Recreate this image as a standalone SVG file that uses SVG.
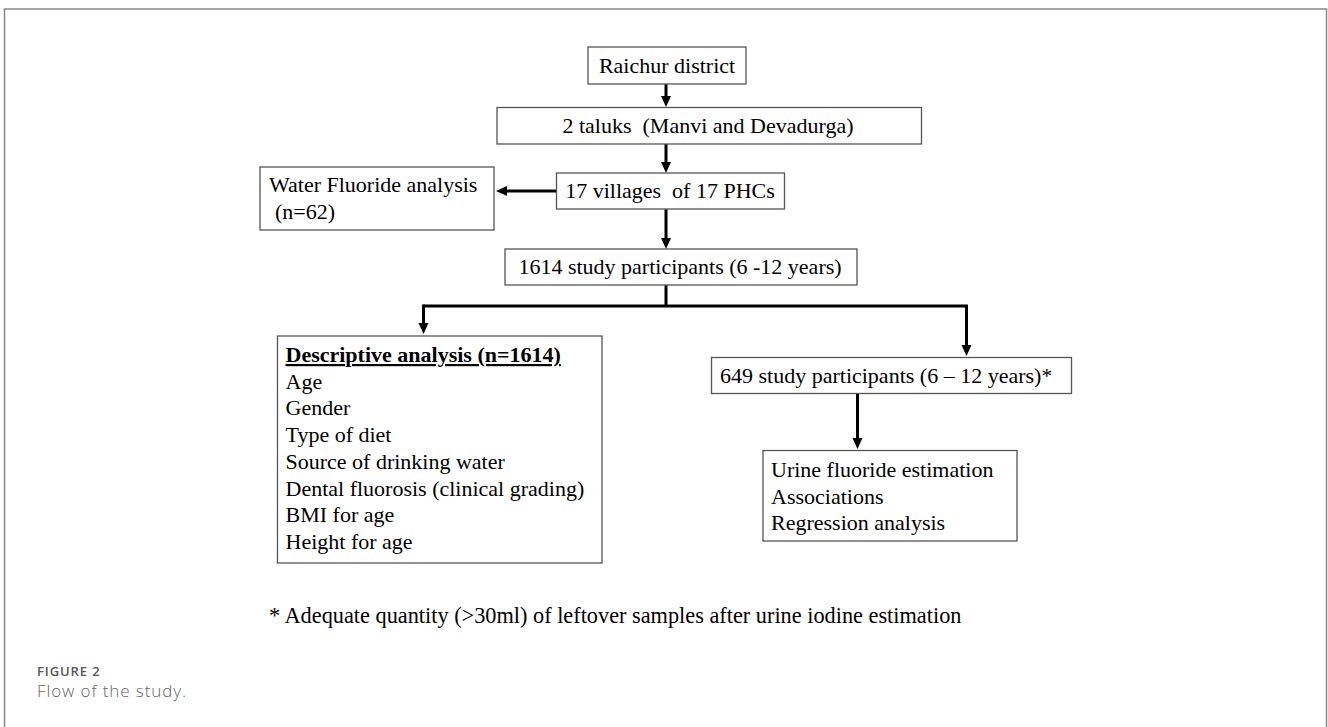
<svg xmlns="http://www.w3.org/2000/svg" width="1328" height="727" viewBox="0 0 1328 727">
<style>
.box{fill:#fff;stroke:#555;stroke-width:1.3}
.t{font-family:"Liberation Serif","Times New Roman",serif;font-size:22px;fill:#000}
.c{text-anchor:middle}
.fn{font-size:22.3px}
.con{fill:none;stroke:#000;stroke-width:3}
.cap1{font-family:"Open Sans",sans-serif;font-weight:600;font-size:13px;letter-spacing:0.9px;fill:#555}
.cap2{font-family:"Open Sans",sans-serif;font-weight:300;font-size:17px;letter-spacing:0.9px;fill:#666}
</style>
<defs>
<marker id="ah" markerUnits="userSpaceOnUse" markerWidth="12" markerHeight="11" refX="1" refY="5" orient="auto" viewBox="0 0 12 10">
<path d="M0,0 L11,5 L0,10 z" fill="#000"/>
</marker>
</defs>
<rect x="0" y="0" width="1328" height="727" fill="#fff"/>
<rect x="4.5" y="9" width="1322" height="800" fill="none" stroke="#888" stroke-width="1.5"/>

<g id="connectors">
<line class="con" x1="666" y1="84" x2="666" y2="97" marker-end="url(#ah)"/>
<line class="con" x1="666" y1="144" x2="666" y2="163" marker-end="url(#ah)"/>
<line class="con" x1="556.5" y1="191" x2="506" y2="191" marker-end="url(#ah)"/>
<line class="con" x1="666" y1="209" x2="666" y2="239" marker-end="url(#ah)"/>
<polyline class="con" points="666,285 666,306"/>
<polyline class="con" points="423.5,306 966.5,306 966.5,346" marker-end="url(#ah)"/>
<line class="con" x1="423.5" y1="304.5" x2="423.5" y2="324" marker-end="url(#ah)"/>
<line class="con" x1="857.5" y1="393.5" x2="857.5" y2="439" marker-end="url(#ah)"/>
</g>

<g id="raichur">
<rect class="box" x="588" y="47" width="158" height="37"/>
<text class="t c" x="667" y="73">Raichur district</text>
</g>
<g id="taluks">
<rect class="box" x="497" y="107.5" width="424.5" height="36.5"/>
<text class="t c" x="708" y="133" xml:space="preserve">2 taluks  (Manvi and Devadurga)</text>
</g>
<g id="villages">
<rect class="box" x="556.5" y="173" width="228" height="36"/>
<text class="t c" x="670" y="198" xml:space="preserve">17 villages  of 17 PHCs</text>
</g>
<g id="water">
<rect class="box" x="260" y="167" width="234" height="63"/>
<text class="t" x="269" y="192">Water Fluoride analysis</text>
<text class="t" x="275" y="219">(n=62)</text>
</g>
<g id="participants1614">
<rect class="box" x="505" y="249" width="352" height="36"/>
<text class="t c" x="680" y="273.5">1614 study participants (6 -12 years)</text>
</g>
<g id="descriptive">
<rect class="box" x="277.5" y="336" width="324.5" height="227"/>
<text class="t" x="285.5" y="362" font-weight="bold" text-decoration="underline">Descriptive analysis (n=1614)</text>
<text class="t" x="285.5" y="388.5">Age</text>
<text class="t" x="285.5" y="415.3">Gender</text>
<text class="t" x="285.5" y="442">Type of diet</text>
<text class="t" x="285.5" y="468.8">Source of drinking water</text>
<text class="t" x="285.5" y="495.6">Dental fluorosis (clinical grading)</text>
<text class="t" x="285.5" y="522.4">BMI for age</text>
<text class="t" x="285.5" y="549.2">Height for age</text>
</g>
<g id="participants649">
<rect class="box" x="711.5" y="357.5" width="360" height="36"/>
<text class="t" x="720" y="382.5">649 study participants (6 – 12 years)*</text>
</g>
<g id="urine">
<rect class="box" x="763" y="450.5" width="254" height="90.5"/>
<text class="t" x="771" y="477">Urine fluoride estimation</text>
<text class="t" x="771" y="503.5">Associations</text>
<text class="t" x="771" y="530">Regression analysis</text>
</g>
<g id="footnote">
<text class="t fn" x="269" y="623">* Adequate quantity (&gt;30ml) of leftover samples after urine iodine estimation</text>
</g>
<g id="caption">
<text class="cap1" x="37" y="676">FIGURE 2</text>
<text class="cap2" x="37" y="697">Flow of the study.</text>
</g>
</svg>
